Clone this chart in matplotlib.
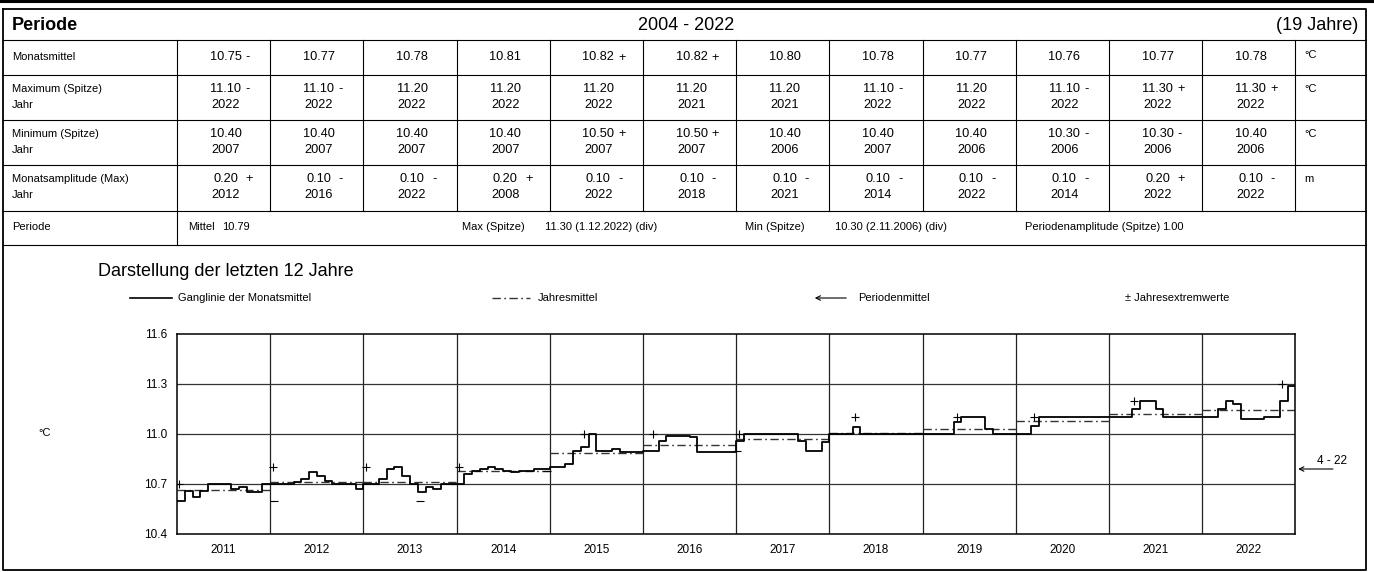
import matplotlib
matplotlib.use('Agg')
import matplotlib.pyplot as plt
import matplotlib.transforms as mtransforms
import numpy as np

plt.rcParams['font.family'] = ['Liberation Sans', 'DejaVu Sans']

W, H = 1374, 572

# --- table values (columns = Jan..Dec) ---
mittel = [10.75, 10.77, 10.78, 10.81, 10.82, 10.82, 10.80, 10.78, 10.77, 10.76, 10.77, 10.78]
maxi = [11.10, 11.10, 11.20, 11.20, 11.20, 11.20, 11.20, 11.10, 11.20, 11.10, 11.30, 11.30]
maxi_jahr = [2022, 2022, 2022, 2022, 2022, 2021, 2021, 2022, 2022, 2022, 2022, 2022]
mini = [10.40, 10.40, 10.40, 10.40, 10.50, 10.50, 10.40, 10.40, 10.40, 10.30, 10.30, 10.40]
mini_jahr = [2007, 2007, 2007, 2007, 2007, 2007, 2006, 2007, 2006, 2006, 2006, 2006]
ampl = [0.20, 0.10, 0.10, 0.20, 0.10, 0.10, 0.10, 0.10, 0.10, 0.10, 0.20, 0.10]
ampl_jahr = [2012, 2016, 2022, 2008, 2022, 2018, 2021, 2014, 2022, 2014, 2022, 2022]

periode_mittel = 10.79

# --- monthly means of the last 12 years ---
jahre = list(range(2011, 2023))
m2011 = [10.60, 10.66, 10.62, 10.66, 10.70, 10.70, 10.70, 10.67, 10.68, 10.65, 10.65, 10.70]
m2012 = [10.70, 10.70, 10.70, 10.71, 10.73, 10.77, 10.75, 10.72, 10.70, 10.70, 10.70, 10.67]
m2013 = [10.70, 10.70, 10.73, 10.79, 10.80, 10.75, 10.70, 10.65, 10.68, 10.67, 10.70, 10.70]
m2014 = [10.70, 10.76, 10.78, 10.79, 10.80, 10.79, 10.78, 10.77, 10.78, 10.78, 10.79, 10.79]
m2015 = [10.80, 10.80, 10.82, 10.90, 10.92, 11.00, 10.90, 10.90, 10.91, 10.89, 10.89, 10.89]
m2016 = [10.90, 10.90, 10.96, 10.99, 10.99, 10.99, 10.98, 10.89, 10.89, 10.89, 10.89, 10.89]
m2017 = [10.96, 11.00, 11.00, 11.00, 11.00, 11.00, 11.00, 11.00, 10.96, 10.90, 10.90, 10.95]
m2018 = [11.00, 11.00, 11.00, 11.04, 11.00, 11.00, 11.00, 11.00, 11.00, 11.00, 11.00, 11.00]
m2019 = [11.00, 11.00, 11.00, 11.00, 11.07, 11.10, 11.10, 11.10, 11.03, 11.00, 11.00, 11.00]
m2020 = [11.00, 11.00, 11.05, 11.10, 11.10, 11.10, 11.10, 11.10, 11.10, 11.10, 11.10, 11.10]
m2021 = [11.10, 11.10, 11.10, 11.15, 11.20, 11.20, 11.15, 11.10, 11.10, 11.10, 11.10, 11.10]
m2022 = [11.10, 11.10, 11.15, 11.20, 11.18, 11.09, 11.09, 11.09, 11.10, 11.10, 11.20, 11.29]
monate = [m2011, m2012, m2013, m2014, m2015, m2016, m2017, m2018, m2019, m2020, m2021, m2022]

jahresmittel = [10.666, 10.712, 10.714, 10.778, 10.884, 10.934, 10.970, 11.004, 11.030, 11.078, 11.122, 11.144]

# yearly extremes (date as decimal year, value)
plus_t = [2011.02, 2012.03, 2013.03, 2014.03, 2015.37, 2016.11, 2017.03, 2018.27, 2019.37, 2020.19, 2021.27, 2022.86]
plus_v = [10.70, 10.80, 10.80, 10.80, 11.00, 11.00, 11.00, 11.10, 11.10, 11.10, 11.20, 11.30]
minus_t = [2012.04, 2013.61, 2013.97, 2014.97, 2017.01]
minus_v = [10.60, 10.60, 10.70, 10.78, 10.90]

fig = plt.figure(figsize=(W / 100, H / 100), dpi=100)
bg = fig.add_axes([0, 0, 1, 1])
bg.set_xlim(0, W)
bg.set_ylim(H, 0)
bg.axis('off')

# frame
x0, x1 = 3, 1366
bg.plot([0, W], [1.2, 1.2], color='k', lw=2.2)
bg.plot([x0, x1, x1, x0, x0], [9, 9, 570, 570, 9], color='k', lw=1.3)

rows = [9, 40, 75, 120, 165, 211, 245]
for y in rows[1:]:
    bg.plot([x0, x1], [y, y], color='k', lw=0.8)

colw = 93.2
cx0 = 177
cols = [cx0 + colw * k for k in range(13)]
for x in cols:
    bg.plot([x, x], [rows[1], rows[5]], color='k', lw=0.8)
bg.plot([cols[0], cols[0]], [rows[5], rows[6]], color='k', lw=0.8)

# header
bg.text(12, 25, 'Periode', fontsize=13, fontweight='bold', va='center')
bg.text(686, 25, '2004 - 2022', fontsize=13, ha='center', va='center')
bg.text(1358, 25, '(19 Jahre)', fontsize=13, ha='right', va='center')

fs_lab = 8
fs_val = 9.2


def zeichen(vals, v):
    if v == max(vals):
        return '+'
    if v == min(vals):
        return '-'
    return ''


def zeile(y1, y2, vals, fmt, jahr=None):
    for i, v in enumerate(vals):
        cx = cols[i] + colw / 2 + 2
        s = zeichen(vals, v)
        yy = (y1 + y2) / 2 if jahr is None else y1 + 14
        bg.text(cx, yy, fmt % v, fontsize=fs_val, ha='center', va='center')
        if s:
            bg.text(cx + 20, yy, s, fontsize=fs_val, ha='left', va='center')
        if jahr is not None:
            bg.text(cx, y1 + 30, str(jahr[i]), fontsize=fs_val, ha='center', va='center')


bg.text(12, (rows[1] + rows[2]) / 2, 'Monatsmittel', fontsize=fs_lab, va='center')
zeile(rows[1], rows[2], mittel, '%.2f')
bg.text(1304, (rows[1] + rows[2]) / 2 - 3, '°C', fontsize=fs_lab, va='center')

labels = [('Maximum (Spitze)', maxi, maxi_jahr, '%.2f', '°C'),
          ('Minimum (Spitze)', mini, mini_jahr, '%.2f', '°C'),
          ('Monatsamplitude (Max)', ampl, ampl_jahr, '%.2f', 'm')]
for k, (lab, vals, jahr, fmt, unit) in enumerate(labels):
    y1, y2 = rows[2 + k], rows[3 + k]
    bg.text(12, y1 + 14, lab, fontsize=fs_lab, va='center')
    bg.text(12, y1 + 30, 'Jahr', fontsize=fs_lab, va='center')
    zeile(y1, y2, vals, fmt, jahr)
    bg.text(1304, y1 + 14, unit, fontsize=fs_lab, va='center')

yp = rows[5] + 16
bg.text(12, yp, 'Periode', fontsize=fs_lab, va='center')
bg.text(188, yp, 'Mittel', fontsize=fs_lab, va='center')
bg.text(222, yp, '%.2f' % periode_mittel, fontsize=fs_lab, va='center')
bg.text(462, yp, 'Max (Spitze)', fontsize=fs_lab, va='center')
bg.text(545, yp, '11.30 (1.12.2022) (div)', fontsize=fs_lab, va='center')
bg.text(745, yp, 'Min (Spitze)', fontsize=fs_lab, va='center')
bg.text(835, yp, '10.30 (2.11.2006) (div)', fontsize=fs_lab, va='center')
bg.text(1025, yp, 'Periodenamplitude (Spitze)', fontsize=fs_lab, va='center')
bg.text(1162, yp, '1.00', fontsize=fs_lab, va='center')

# chart section
bg.text(98, 272, 'Darstellung der letzten 12 Jahre', fontsize=13, va='center')
ly = 298
bg.plot([130, 172], [ly, ly], color='k', lw=1.2)
bg.text(178, ly, 'Ganglinie der Monatsmittel', fontsize=fs_lab, va='center')
bg.plot([492, 530], [ly, ly], color='#333333', lw=1, linestyle=(0, (6, 2.5, 1.2, 2.5)))
bg.text(538, ly, 'Jahresmittel', fontsize=fs_lab, va='center')
bg.annotate('', xy=(812, ly), xytext=(849, ly),
            arrowprops=dict(arrowstyle='->', lw=0.8, color='k', mutation_scale=8))
bg.text(858, ly, 'Periodenmittel', fontsize=fs_lab, va='center')
bg.text(1125, ly, '± Jahresextremwerte', fontsize=fs_lab, va='center')
bg.text(38, 433, '°C', fontsize=fs_lab, va='center')

ax = fig.add_axes([cx0 / W, (H - 534) / H, (cols[-1] - cx0) / W, 200 / H])
ax.set_xlim(2011, 2023)
ax.set_ylim(10.4, 11.6)
ax.set_yticks([10.4, 10.7, 11.0, 11.3, 11.6])
ax.set_yticklabels(['%.1f' % v for v in [10.4, 10.7, 11.0, 11.3, 11.6]])
ax.set_xticks([j + 0.5 for j in jahre])
ax.set_xticklabels([str(j) for j in jahre])
ax.tick_params(length=0, labelsize=8.5, pad=7)
for s in ax.spines.values():
    s.set_linewidth(1.1)
for j in jahre[1:]:
    ax.axvline(j, color='#222222', lw=0.9, zorder=1)
for v in [10.7, 11.0, 11.3]:
    ax.axhline(v, color='#333333', lw=0.9, zorder=1)

t = []
v = []
for j, mm in zip(jahre, monate):
    for i, val in enumerate(mm):
        t.append(j + i / 12)
        v.append(val)
t.append(2023)
v.append(monate[-1][-1])
ax.plot(t, v, drawstyle='steps-post', color='k', lw=1.3, zorder=3)

for j, jm in zip(jahre, jahresmittel):
    ax.plot([j, j + 1], [jm, jm], color='#333333', lw=1,
            linestyle=(0, (6, 2.5, 1.2, 2.5)), zorder=2)

ax.plot(plus_t, plus_v, linestyle='none', marker='+', ms=6, mew=0.8, color='k', zorder=4)
ax.plot(minus_t, minus_v, linestyle='none', marker='_', ms=6, mew=0.8, color='k', zorder=4)

trans = mtransforms.blended_transform_factory(ax.transAxes, ax.transData)
ax.annotate('', xy=(1.0, periode_mittel), xycoords=trans,
            xytext=(1.036, periode_mittel), textcoords=trans,
            arrowprops=dict(arrowstyle='->', lw=0.8, color='k', mutation_scale=8))
ax.text(1.033, periode_mittel + 0.045, '4 - 22', transform=trans, fontsize=8.5,
        ha='center', va='center', clip_on=False)

fig.savefig('out.png', dpi=100)
